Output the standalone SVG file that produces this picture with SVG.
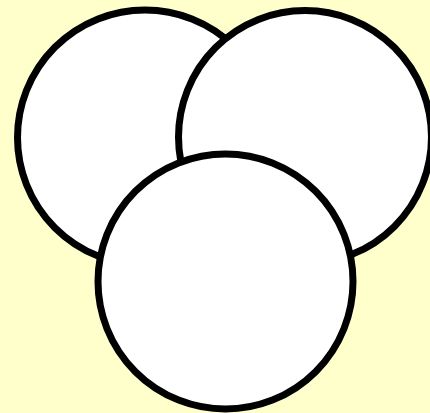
<svg xmlns="http://www.w3.org/2000/svg" width="430" height="413" viewBox="0 0 430 413">
<style>
.c{fill:#ffffff;stroke:#000000;stroke-width:7}
</style>
<rect width="430" height="413" fill="#ffffcc"/>
<g id="left"><circle class="c" cx="145" cy="137.5" r="127.5"/></g>
<g id="right"><circle class="c" cx="305" cy="137" r="126.5"/></g>
<g id="bottom"><circle class="c" cx="225.5" cy="281.5" r="127.5"/></g>
</svg>
